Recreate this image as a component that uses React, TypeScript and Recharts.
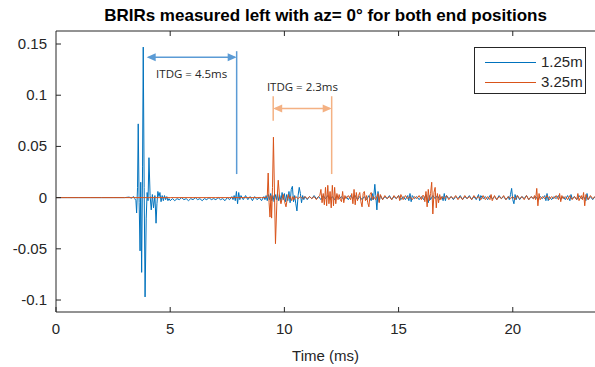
import React from 'react';
import {
  LineChart,
  Line,
  XAxis,
  YAxis,
  ReferenceLine,
  ReferenceDot,
} from 'recharts';

// BRIR sample values, [time in ms, amplitude]
const BRIR_125: [number, number][] = [
  [0, 0], [0.5, 0], [1, 0], [1.5, 0], [2, 0], [2.5, 0], [3, 0], [3.2, 0.0005], [3.3, -0.0005],
  [3.4, 0.001], [3.45, -0.001], [3.5, -0.003], [3.53, -0.015], [3.57, 0.01], [3.6, 0.072],
  [3.64, -0.005], [3.68, -0.052], [3.71, 0.015], [3.75, -0.073], [3.79, 0.03], [3.82, 0.147],
  [3.86, 0.01], [3.9, -0.097], [3.95, -0.02], [3.99, 0.005], [4.03, -0.003], [4.07, 0.039],
  [4.12, 0.002], [4.17, -0.012], [4.22, 0.003], [4.27, -0.01], [4.33, 0.002], [4.38, -0.025],
  [4.42, -0.006], [4.46, 0.006], [4.51, 0.001], [4.55, 0.005], [4.6, -0.004], [4.65, 0.002],
  [4.7, -0.003], [4.75, 0.002], [4.8, -0.002], [4.85, 0.001], [4.9, -0.003], [4.95, -0.001],
  [5.0, -0.003], [5.1, -0.001], [5.2, -0.003], [5.3, -0.001], [5.4, -0.002], [5.5, 0.0],
  [5.6, -0.002], [5.7, -0.001], [5.8, -0.003], [5.9, -0.001], [6.0, -0.002], [6.1, 0.0],
  [6.2, -0.002], [6.3, -0.001], [6.4, -0.003], [6.5, -0.001], [6.6, -0.002], [6.7, 0.0],
  [6.8, -0.002], [6.9, -0.001], [7.0, -0.002], [7.1, 0.0], [7.2, -0.002], [7.3, -0.001],
  [7.4, -0.003], [7.5, 0.0], [7.6, -0.002], [7.7, 0.001], [7.75, -0.002], [7.8, 0.002],
  [7.85, -0.003], [7.9, 0.006], [7.95, -0.006], [8.0, 0.005], [8.05, -0.002], [8.1, 0.002],
  [8.2, -0.002], [8.3, 0.002], [8.4, -0.002], [8.5, 0.001], [8.6, -0.003], [8.7, 0.001],
  [8.8, -0.002], [8.9, 0.0], [9.0, -0.003], [9.1, 0.001], [9.15, -0.002], [9.2, 0.002],
  [9.25, -0.003], [9.3, 0.003], [9.35, -0.002], [9.4, 0.004], [9.45, -0.003], [9.5, 0.002],
  [9.55, -0.004], [9.6, 0.003], [9.65, -0.002], [9.7, 0.004], [9.75, -0.003], [9.8, 0.002],
  [9.85, -0.003], [9.9, 0.005], [9.95, -0.002], [10.0, 0.004], [10.05, -0.004], [10.1, 0.003],
  [10.15, -0.003], [10.2, 0.006], [10.25, -0.005], [10.3, 0.008], [10.35, 0.011], [10.4, -0.004],
  [10.45, 0.002], [10.5, -0.006], [10.55, -0.013], [10.6, 0.002], [10.65, 0.01], [10.7, 0.004],
  [10.75, -0.005], [10.8, 0.002], [10.85, -0.002], [10.9, 0.001], [11.0, -0.002], [11.1, 0.001],
  [11.2, -0.001], [11.3, 0.002], [11.4, -0.001], [11.5, 0.001], [11.6, -0.002], [11.7, 0.002],
  [11.8, -0.001], [11.9, 0.002], [12.0, -0.002], [12.1, 0.001], [12.2, -0.002], [12.3, 0.002],
  [12.4, -0.001], [12.5, 0.001], [12.6, -0.002], [12.7, 0.001], [12.8, -0.002], [12.9, 0.002],
  [13.0, -0.001], [13.1, 0.002], [13.2, -0.002], [13.3, 0.001], [13.4, -0.002], [13.5, 0.001],
  [13.6, -0.002], [13.7, 0.002], [13.8, -0.003], [13.85, 0.004], [13.9, -0.002], [13.96, 0.013],
  [14.0, 0.002], [14.05, -0.012], [14.1, 0.006], [14.15, -0.004], [14.2, 0.002], [14.3, -0.002],
  [14.4, 0.001], [14.5, -0.001], [14.6, 0.002], [14.7, -0.002], [14.8, 0.001], [14.9, -0.001],
  [15.0, 0.002], [15.1, -0.002], [15.2, 0.001], [15.3, -0.002], [15.4, 0.002], [15.45, -0.003],
  [15.5, 0.004], [15.55, -0.004], [15.6, 0.002], [15.7, -0.001], [15.8, 0.001], [15.9, -0.002],
  [16.0, 0.001], [16.1, -0.002], [16.2, 0.003], [16.3, -0.005], [16.35, 0.002], [16.4, -0.002],
  [16.5, 0.002], [16.6, -0.001], [16.7, 0.002], [16.8, -0.002], [16.9, 0.001], [16.95, -0.003],
  [17.0, 0.004], [17.05, -0.003], [17.1, 0.002], [17.2, -0.001], [17.3, 0.001], [17.4, -0.002],
  [17.5, 0.001], [17.6, -0.001], [17.7, 0.002], [17.8, -0.002], [17.9, 0.001], [18.0, -0.001],
  [18.1, 0.002], [18.2, -0.002], [18.3, 0.001], [18.4, -0.002], [18.5, 0.003], [18.55, -0.003],
  [18.6, 0.002], [18.7, -0.001], [18.8, 0.001], [18.9, -0.002], [19.0, 0.002], [19.1, -0.001],
  [19.2, 0.001], [19.3, -0.002], [19.4, 0.002], [19.5, -0.001], [19.6, 0.001], [19.7, -0.002],
  [19.8, 0.001], [19.85, -0.002], [19.9, 0.003], [19.95, 0.009], [20.0, -0.002], [20.05, -0.006],
  [20.1, 0.003], [20.15, -0.002], [20.2, 0.002], [20.3, -0.002], [20.4, 0.001], [20.5, -0.001],
  [20.6, 0.002], [20.7, -0.002], [20.8, 0.001], [20.9, -0.001], [21.0, 0.001], [21.1, -0.002],
  [21.2, 0.001], [21.3, -0.001], [21.4, 0.002], [21.45, -0.003], [21.5, 0.004], [21.55, -0.003],
  [21.6, 0.001], [21.7, -0.002], [21.8, 0.001], [21.9, -0.001], [22.0, 0.002], [22.1, -0.002],
  [22.2, 0.001], [22.3, -0.002], [22.4, 0.002], [22.5, -0.003], [22.55, 0.003], [22.6, -0.001],
  [22.7, 0.001], [22.8, -0.002], [22.9, 0.002], [23.0, -0.001], [23.1, 0.001], [23.2, -0.003],
  [23.25, 0.004], [23.3, -0.002], [23.4, 0.001], [23.5, -0.002], [23.6, 0.001],
];

const BRIR_325: [number, number][] = [
  [0, 0], [1, 0], [2, 0], [3, 0], [4, 0], [5, 0], [6, 0], [7, 0], [8, 0], [9, 0], [9.2, 0],
  [9.25, 0.001], [9.29, 0.024], [9.33, -0.005], [9.37, -0.019], [9.41, 0.002], [9.44, -0.02],
  [9.48, 0.01], [9.52, 0.059], [9.57, 0.0], [9.61, -0.045], [9.67, -0.005], [9.73, 0.017],
  [9.79, 0.0], [9.85, -0.006], [9.9, -0.001], [9.95, 0.003], [10.01, -0.004], [10.07, -0.009],
  [10.12, -0.002], [10.17, 0.003], [10.22, -0.001], [10.27, 0.001], [10.32, -0.003], [10.37, 0.001],
  [10.42, -0.002], [10.5, 0.001], [10.6, -0.001], [10.7, 0.001], [10.8, -0.001], [10.9, 0.001],
  [11.0, -0.001], [11.1, 0.001], [11.2, -0.001], [11.3, 0.001], [11.4, -0.002], [11.5, 0.001],
  [11.55, 0.002], [11.6, 0.008], [11.65, -0.005], [11.7, 0.004], [11.75, -0.007], [11.8, 0.01],
  [11.85, -0.008], [11.9, 0.012], [11.95, -0.006], [12.0, 0.006], [12.05, -0.01], [12.1, 0.012],
  [12.15, -0.008], [12.2, 0.01], [12.25, -0.006], [12.3, 0.004], [12.35, -0.002], [12.4, 0.003],
  [12.45, -0.002], [12.5, -0.004], [12.55, 0.006], [12.6, -0.005], [12.65, 0.002], [12.7, -0.001],
  [12.8, 0.002], [12.9, -0.002], [12.95, 0.004], [13.0, -0.006], [13.05, 0.008], [13.1, -0.007],
  [13.15, 0.005], [13.2, -0.003], [13.25, 0.002], [13.3, 0.005], [13.35, -0.004], [13.4, -0.009],
  [13.45, 0.004], [13.5, 0.006], [13.55, -0.003], [13.6, 0.002], [13.65, -0.005], [13.7, -0.009],
  [13.75, 0.003], [13.8, 0.005], [13.85, -0.002], [13.9, 0.001], [14.0, -0.002], [14.1, 0.004],
  [14.15, -0.005], [14.2, 0.003], [14.3, -0.002], [14.4, 0.002], [14.5, -0.001], [14.6, 0.001],
  [14.7, -0.002], [14.8, 0.002], [14.9, -0.001], [15.0, 0.002], [15.05, -0.003], [15.1, 0.003],
  [15.2, -0.002], [15.3, 0.002], [15.4, -0.001], [15.5, 0.001], [15.6, -0.002], [15.7, 0.001],
  [15.8, -0.001], [15.9, 0.002], [16.0, -0.002], [16.05, 0.002], [16.1, 0.002], [16.15, -0.004],
  [16.2, 0.006], [16.25, -0.009], [16.3, 0.008], [16.35, -0.003], [16.4, 0.004], [16.45, 0.015],
  [16.5, -0.016], [16.55, 0.005], [16.6, 0.01], [16.65, -0.01], [16.7, 0.004], [16.75, -0.005],
  [16.8, 0.003], [16.85, -0.002], [16.9, 0.001], [17.0, -0.001], [17.1, 0.002], [17.2, -0.002],
  [17.3, 0.001], [17.4, -0.001], [17.5, 0.002], [17.6, -0.002], [17.7, 0.001], [17.8, -0.002],
  [17.9, 0.002], [18.0, -0.001], [18.1, 0.001], [18.2, -0.002], [18.3, 0.002], [18.4, -0.001],
  [18.5, 0.001], [18.6, -0.002], [18.7, 0.002], [18.8, -0.002], [18.9, 0.001], [19.0, -0.002],
  [19.05, 0.003], [19.1, -0.003], [19.2, 0.002], [19.3, -0.002], [19.4, 0.001], [19.5, -0.001],
  [19.6, 0.002], [19.7, -0.002], [19.8, 0.001], [19.9, -0.001], [20.0, 0.001], [20.1, -0.002],
  [20.2, 0.002], [20.3, -0.001], [20.4, 0.001], [20.5, -0.002], [20.6, 0.002], [20.7, -0.002],
  [20.8, 0.001], [20.9, -0.001], [20.95, 0.002], [21.0, -0.002], [21.05, 0.009], [21.1, -0.008],
  [21.15, 0.004], [21.2, -0.002], [21.3, 0.001], [21.4, -0.001], [21.5, 0.002], [21.6, -0.002],
  [21.7, 0.001], [21.8, -0.001], [21.9, 0.002], [22.0, -0.002], [22.05, 0.004], [22.1, -0.004],
  [22.15, 0.002], [22.2, -0.001], [22.3, 0.001], [22.4, -0.002], [22.5, 0.002], [22.6, -0.002],
  [22.7, 0.001], [22.8, -0.002], [22.85, 0.004], [22.9, -0.003], [23.0, 0.002], [23.05, -0.002],
  [23.1, 0.005], [23.15, -0.008], [23.2, 0.003], [23.3, -0.002], [23.4, 0.002], [23.5, -0.001],
  [23.6, 0.001],
];

const X_TICKS = [0, 5, 10, 15, 20];
const Y_TICKS = [-0.1, -0.05, 0, 0.05, 0.1, 0.15];
const SERIES_NAMES = ['1.25m', '3.25m'];

// ITDG annotations: arrow from direct sound to first reflection
const ITDG_LABELS = ['ITDG = 4.5ms', 'ITDG = 2.3ms'];
const ITDG_FROM = [3.97, 9.51];
const ITDG_TO = [7.91, 12.07];
const ITDG_ARROW_AT = [0.137, 0.087];
const ITDG_LABEL_AT = [0.121, 0.108];
const ITDG_MARK_TOP = [0.143, 0.099];
const ITDG_MARK_BOTTOM = [0.023, 0.023];
const ITDG_START_MARK_BOTTOM = [null, 0.075];

const BLUE = '#0072BD';
const ORANGE = '#D95319';
const NOTE_COLORS = ['#5B9BD5', '#F4B183'];
const INK = '#262626';
const FONT = '"Liberation Sans", Arial, sans-serif';

const blueData = BRIR_125.map(([t, v]) => ({ t, v }));
const orangeData = BRIR_325.map(([t, v]) => ({ t, v }));

const XTick = (props: any) => {
  const { x, y, payload } = props;
  return (
    <g>
      <line x1={x} x2={x} y1={y} y2={y - 5} stroke={INK} strokeWidth={1} />
      <text x={x} y={y + 22} textAnchor="middle" fill={INK} fontSize={15} fontFamily={FONT}>
        {payload.value}
      </text>
    </g>
  );
};

const TopTick = (props: any) => {
  const { x, y } = props;
  return <line x1={x} x2={x} y1={y} y2={y + 5} stroke={INK} strokeWidth={1} />;
};

const YTick = (props: any) => {
  const { x, y, payload } = props;
  return (
    <g>
      <line x1={x} x2={x + 5} y1={y} y2={y} stroke={INK} strokeWidth={1} />
      <text x={x - 9} y={y} dy={5} textAnchor="end" fill={INK} fontSize={15} fontFamily={FONT}>
        {payload.value}
      </text>
    </g>
  );
};

const DoubleArrow = (props: any) => {
  const { x1, y1, x2, y2, stroke } = props;
  const len = 9;
  const half = 4;
  return (
    <g>
      <line x1={x1 + 2} y1={y1} x2={x2 - 2} y2={y2} stroke={stroke} strokeWidth={1.5} />
      <polygon points={`${x1},${y1} ${x1 + len},${y1 - half} ${x1 + len},${y1 + half}`} fill={stroke} />
      <polygon points={`${x2},${y2} ${x2 - len},${y2 - half} ${x2 - len},${y2 + half}`} fill={stroke} />
    </g>
  );
};

const LegendBox = () => (
  <div
    style={{
      position: 'absolute',
      left: 474,
      top: 47,
      width: 110,
      height: 45,
      border: `1px solid ${INK}`,
      background: '#fff',
      fontFamily: FONT,
      fontSize: 15,
      color: INK,
    }}
  >
    {SERIES_NAMES.map((name, i) => (
      <div key={name} style={{ display: 'flex', alignItems: 'center', height: 20, marginTop: i === 0 ? 4 : 0 }}>
        <div style={{ marginLeft: 10, width: 51, height: 1, background: i === 0 ? BLUE : ORANGE }} />
        <span style={{ marginLeft: 5, lineHeight: '20px' }}>{name}</span>
      </div>
    ))}
  </div>
);

export default function App() {
  return (
    <div style={{ position: 'absolute', left: 0, top: 0, width: 595, height: 367, background: '#fff', overflow: 'hidden' }}>
      <div
        style={{
          position: 'absolute',
          left: 56,
          width: 539,
          top: 6,
          textAlign: 'center',
          fontFamily: FONT,
          fontWeight: 'bold',
          fontSize: 17,
          color: '#000',
          lineHeight: '20px',
          whiteSpace: 'nowrap',
        }}
      >
        BRIRs measured left with az= 0° for both end positions
      </div>
      <LineChart width={595} height={367} margin={{ top: 30, right: 0, bottom: 0, left: 0 }}>
        <XAxis
          dataKey="t"
          type="number"
          domain={[0, 23.6]}
          allowDataOverflow
          ticks={X_TICKS}
          interval={0}
          height={55}
          tickSize={0}
          tickMargin={0}
          tickLine={false}
          stroke={INK}
          tick={<XTick />}
          label={{ value: 'Time (ms)', position: 'insideBottom', offset: 6, fill: INK, fontSize: 15, fontFamily: FONT }}
        />
        <XAxis
          xAxisId="top"
          orientation="top"
          dataKey="t"
          type="number"
          domain={[0, 23.6]}
          allowDataOverflow
          ticks={X_TICKS.slice(1)}
          interval={0}
          height={1}
          tickSize={0}
          tickMargin={0}
          tickLine={false}
          axisLine={{ stroke: INK, strokeWidth: 1 }}
          tick={<TopTick />}
        />
        <YAxis
          type="number"
          domain={[-0.1117, 0.1627]}
          allowDataOverflow
          ticks={Y_TICKS}
          interval={0}
          width={56}
          tickSize={0}
          tickMargin={0}
          tickLine={false}
          stroke={INK}
          tick={<YTick />}
        />
        <Line
          data={blueData}
          dataKey="v"
          name={SERIES_NAMES[0]}
          stroke={BLUE}
          strokeWidth={1}
          dot={false}
          type="linear"
          isAnimationActive={false}
        />
        <Line
          xAxisId="top"
          data={orangeData}
          dataKey="v"
          name={SERIES_NAMES[1]}
          stroke={ORANGE}
          strokeWidth={1}
          dot={false}
          type="linear"
          isAnimationActive={false}
        />
        {ITDG_LABELS.map((label, i) => (
          <ReferenceLine
            key={`arrow-${i}`}
            segment={[
              { x: ITDG_FROM[i], y: ITDG_ARROW_AT[i] },
              { x: ITDG_TO[i], y: ITDG_ARROW_AT[i] },
            ]}
            stroke={NOTE_COLORS[i]}
            shape={<DoubleArrow />}
          />
        ))}
        {ITDG_LABELS.map((label, i) => (
          <ReferenceLine
            key={`end-${i}`}
            segment={[
              { x: ITDG_TO[i], y: ITDG_MARK_TOP[i] },
              { x: ITDG_TO[i], y: ITDG_MARK_BOTTOM[i] },
            ]}
            stroke={NOTE_COLORS[i]}
            strokeWidth={1.5}
          />
        ))}
        {ITDG_LABELS.map((label, i) =>
          ITDG_START_MARK_BOTTOM[i] === null ? null : (
            <ReferenceLine
              key={`start-${i}`}
              segment={[
                { x: ITDG_FROM[i], y: ITDG_MARK_TOP[i] },
                { x: ITDG_FROM[i], y: ITDG_START_MARK_BOTTOM[i] as number },
              ]}
              stroke={NOTE_COLORS[i]}
              strokeWidth={1.5}
            />
          )
        )}
        {ITDG_LABELS.map((label, i) => (
          <ReferenceDot
            key={`label-${i}`}
            x={(ITDG_FROM[i] + ITDG_TO[i]) / 2}
            y={ITDG_LABEL_AT[i]}
            r={0}
            shape={(p: any) => (
              <text x={p.cx} y={p.cy} dy={4} textAnchor="middle" fill={INK} fontSize={11.5} fontFamily='"Open Sans", sans-serif'>
                {label}
              </text>
            )}
          />
        ))}
      </LineChart>
      <LegendBox />
    </div>
  );
}
